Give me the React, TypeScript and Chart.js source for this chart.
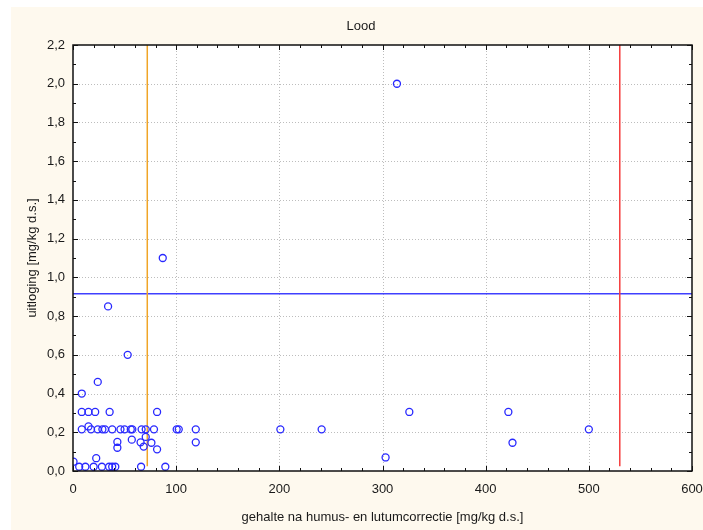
import React, { useEffect, useRef } from "react";
import { Chart, registerables } from "chart.js";

Chart.register(...registerables);

const TITLE = "Lood";
const X_TITLE = "gehalte na humus- en lutumcorrectie [mg/kg d.s.]";
const Y_TITLE = "uitloging [mg/kg d.s.]";

const X_TICKS = [0, 100, 200, 300, 400, 500, 600];
const X_TICK_LABELS = ["0", "100", "200", "300", "400", "500", "600"];
const Y_TICKS = [0, 0.2, 0.4, 0.6, 0.8, 1.0, 1.2, 1.4, 1.6, 1.8, 2.0, 2.2];
const Y_TICK_LABELS = ["0,0", "0,2", "0,4", "0,6", "0,8", "1,0", "1,2", "1,4", "1,6", "1,8", "2,0", "2,2"];

// measured samples: gehalte (x) and uitloging (y)
const sampleX = [
  314, 87, 34, 53, 24, 8.5,
  8.5, 15, 21.5, 35.5, 81.5, 326, 422,
  15,
  8.5, 17.5, 24, 28.5, 31, 38, 46, 50, 56, 57.5, 66.5, 70.5, 78.5, 100.5, 102.5, 119, 201, 241, 500,
  43, 43, 57, 65.5, 68.5, 70.5, 76, 81.5, 119, 426,
  22.5, 303,
  0.5,
  6, 12, 20, 28, 35, 38, 41, 66, 89.5,
];
const sampleY = [
  2.0, 1.1, 0.85, 0.6, 0.46, 0.4,
  0.305, 0.305, 0.305, 0.305, 0.305, 0.305, 0.305,
  0.23,
  0.215, 0.215, 0.215, 0.215, 0.215, 0.215, 0.215, 0.215, 0.215, 0.215, 0.215, 0.215, 0.215, 0.215, 0.215, 0.215, 0.215, 0.215, 0.215,
  0.15, 0.12, 0.162, 0.148, 0.126, 0.176, 0.146, 0.112, 0.148, 0.146,
  0.066, 0.07,
  0.048,
  0.022, 0.022, 0.022, 0.022, 0.022, 0.022, 0.022, 0.022, 0.022,
];

// reference lines
const ORANGE_X = 72;
const RED_X = 530;
const VLINE_Y = [0.025, 2.2];
const BLUE_Y = 0.915;
const HLINE_X = [0, 600];

const X_MIN = 0, X_MAX = 600, X_MINOR = 20;
const Y_MIN = 0, Y_MAX = 2.2, Y_MINOR = 0.1;

const FONT = "13px 'Liberation Sans', Arial, sans-serif";
const CREAM = "#FEF9EE";

const decorPlugin = {
  id: "decor",
  beforeDraw(chart: any) {
    const { ctx, chartArea: a, width, height } = chart;
    const xs = chart.scales.x;
    const ys = chart.scales.y;
    ctx.save();
    ctx.fillStyle = "#FFFFFF";
    ctx.fillRect(0, 0, width, height);
    ctx.fillStyle = CREAM;
    ctx.fillRect(11, 7, width - 11, height - 7);
    ctx.fillStyle = "#FFFFFF";
    ctx.fillRect(a.left, a.top, a.right - a.left, a.bottom - a.top);
    // dotted grid
    ctx.strokeStyle = "#BDBDBD";
    ctx.lineWidth = 1;
    ctx.setLineDash([1, 2]);
    X_TICKS.forEach((v) => {
      if (v === X_MIN || v === X_MAX) return;
      const p = Math.round(xs.getPixelForValue(v)) + 0.5;
      ctx.beginPath();
      ctx.moveTo(p, a.top);
      ctx.lineTo(p, a.bottom);
      ctx.stroke();
    });
    Y_TICKS.forEach((v) => {
      if (v === Y_MIN || v === Y_MAX) return;
      const p = Math.round(ys.getPixelForValue(v)) + 0.5;
      ctx.beginPath();
      ctx.moveTo(a.left, p);
      ctx.lineTo(a.right, p);
      ctx.stroke();
    });
    ctx.setLineDash([]);
    ctx.restore();
  },
  afterDraw(chart: any) {
    const { ctx, chartArea: a } = chart;
    const xs = chart.scales.x;
    const ys = chart.scales.y;
    ctx.save();
    // frame
    ctx.strokeStyle = "#111111";
    ctx.lineWidth = 1.5;
    ctx.strokeRect(a.left, a.top, a.right - a.left, a.bottom - a.top);
    // ticks
    ctx.lineWidth = 1;
    const nx = Math.round((X_MAX - X_MIN) / X_MINOR);
    for (let i = 0; i <= nx; i++) {
      const v = X_MIN + i * X_MINOR;
      const major = X_TICKS.some((t) => Math.abs(t - v) < 1e-6);
      const len = major ? 5 : 3;
      const p = Math.round(xs.getPixelForValue(v)) + 0.5;
      ctx.beginPath();
      ctx.moveTo(p, a.bottom);
      ctx.lineTo(p, a.bottom - len);
      ctx.moveTo(p, a.top);
      ctx.lineTo(p, a.top + len);
      ctx.stroke();
    }
    const ny = Math.round((Y_MAX - Y_MIN) / Y_MINOR);
    for (let i = 0; i <= ny; i++) {
      const v = Y_MIN + i * Y_MINOR;
      const major = Y_TICKS.some((t) => Math.abs(t - v) < 1e-6);
      const len = major ? 5 : 3;
      const p = Math.round(ys.getPixelForValue(v)) + 0.5;
      ctx.beginPath();
      ctx.moveTo(a.left, p);
      ctx.lineTo(a.left + len, p);
      ctx.moveTo(a.right, p);
      ctx.lineTo(a.right - len, p);
      ctx.stroke();
    }
    // tick labels
    ctx.fillStyle = "#1A1A1A";
    ctx.font = FONT;
    ctx.textAlign = "center";
    ctx.textBaseline = "middle";
    X_TICKS.forEach((v, i) => {
      ctx.fillText(X_TICK_LABELS[i], xs.getPixelForValue(v), a.bottom + 18);
    });
    ctx.textAlign = "right";
    Y_TICKS.forEach((v, i) => {
      ctx.fillText(Y_TICK_LABELS[i], a.left - 8, ys.getPixelForValue(v));
    });
    // titles
    ctx.textAlign = "center";
    ctx.fillText(TITLE, 361, 26);
    ctx.fillText(X_TITLE, (a.left + a.right) / 2, a.bottom + 46);
    ctx.save();
    ctx.translate(32, (a.top + a.bottom) / 2);
    ctx.rotate(-Math.PI / 2);
    ctx.fillText(Y_TITLE, 0, 0);
    ctx.restore();
    ctx.restore();
  },
};

export default function App() {
  const ref = useRef<HTMLCanvasElement | null>(null);
  useEffect(() => {
    if (!ref.current) return;
    const points = sampleX.map((x, i) => ({ x, y: sampleY[i] }));
    const chart = new Chart(ref.current, {
      type: "scatter",
      data: {
        datasets: [
          {
            label: "metingen",
            data: points,
            pointStyle: "circle",
            pointRadius: 3.5,
            pointBorderWidth: 1.3,
            pointBorderColor: "#2828FF",
            pointBackgroundColor: "rgba(0,0,0,0)",
            showLine: false,
          },
          {
            label: "oranje",
            data: VLINE_Y.map((y) => ({ x: ORANGE_X, y })),
            showLine: true,
            pointRadius: 0,
            borderColor: "#F0A526",
            borderWidth: 1.5,
          },
          {
            label: "rood",
            data: VLINE_Y.map((y) => ({ x: RED_X, y })),
            showLine: true,
            pointRadius: 0,
            borderColor: "#F53C3C",
            borderWidth: 1.5,
          },
          {
            label: "blauw",
            data: HLINE_X.map((x) => ({ x, y: BLUE_Y })),
            showLine: true,
            pointRadius: 0,
            borderColor: "#4040FF",
            borderWidth: 1.6,
          },
        ],
      },
      options: {
        responsive: false,
        animation: false,
        layout: { padding: { top: 45, right: 11, left: 0, bottom: 0 } },
        plugins: {
          legend: { display: false },
          tooltip: { enabled: false },
          title: { display: false },
        },
        scales: {
          x: {
            type: "linear",
            min: X_MIN,
            max: X_MAX,
            grid: { display: false, drawTicks: false },
            border: { display: false },
            ticks: { display: false },
            afterFit: (s: any) => {
              s.height = 59;
            },
          },
          y: {
            type: "linear",
            min: Y_MIN,
            max: Y_MAX,
            grid: { display: false, drawTicks: false },
            border: { display: false },
            ticks: { display: false },
            afterFit: (s: any) => {
              s.width = 73;
            },
          },
        },
      },
      plugins: [decorPlugin],
    });
    return () => chart.destroy();
  }, []);
  return (
    <div style={{ position: "fixed", left: 0, top: 0, width: 703, height: 530 }}>
      <canvas ref={ref} width={703} height={530} style={{ display: "block" }} />
    </div>
  );
}
